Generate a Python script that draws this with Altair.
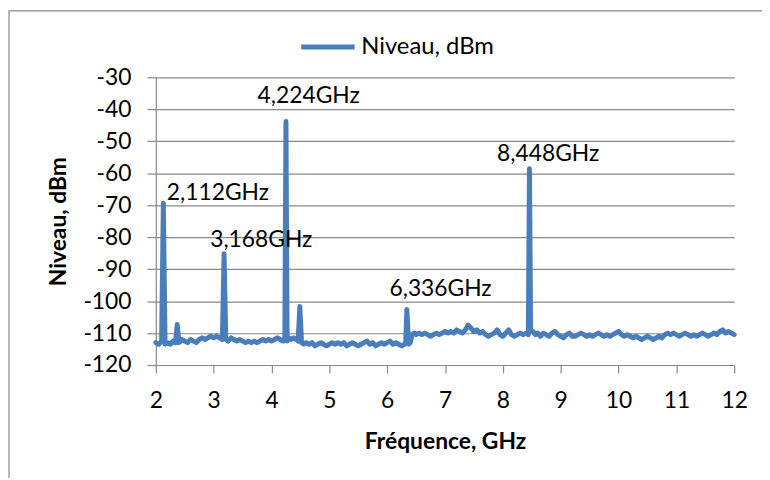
import altair as alt
import pandas as pd

# ---- data ----
freq_ghz = [
    2.00, 2.05, 2.10, 2.13, 2.16, 2.20, 2.25, 2.30, 2.34, 2.37, 2.40, 2.45, 2.50, 2.55,
    2.60, 2.65, 2.70, 2.75, 2.80, 2.85, 2.90, 2.95, 3.00, 3.05, 3.10, 3.15, 3.18, 3.21,
    3.25, 3.30, 3.35, 3.40, 3.45, 3.50, 3.55, 3.60, 3.65, 3.70, 3.75, 3.80, 3.85, 3.90,
    3.95, 4.00, 4.05, 4.10, 4.15, 4.20, 4.23, 4.25, 4.27, 4.30, 4.34, 4.38, 4.43, 4.46,
    4.49, 4.52, 4.56, 4.60, 4.65, 4.70, 4.75, 4.80, 4.85, 4.90, 4.95, 5.00, 5.05, 5.10,
    5.15, 5.20, 5.25, 5.30, 5.35, 5.40, 5.45, 5.50, 5.55, 5.60, 5.65, 5.70, 5.75, 5.80,
    5.85, 5.90, 5.95, 6.00, 6.05, 6.10, 6.15, 6.20, 6.25, 6.30, 6.32, 6.34, 6.37, 6.40,
    6.43, 6.47, 6.50, 6.55, 6.60, 6.65, 6.70, 6.75, 6.80, 6.85, 6.90, 6.95, 7.00, 7.05,
    7.10, 7.15, 7.20, 7.25, 7.30, 7.35, 7.40, 7.45, 7.50, 7.55, 7.60, 7.65, 7.70, 7.75,
    7.80, 7.85, 7.90, 7.95, 8.00, 8.05, 8.10, 8.15, 8.20, 8.25, 8.30, 8.35, 8.40, 8.44,
    8.46, 8.48, 8.52, 8.56, 8.60, 8.65, 8.70, 8.75, 8.80, 8.85, 8.90, 8.95, 9.00, 9.05,
    9.10, 9.15, 9.20, 9.25, 9.30, 9.35, 9.40, 9.45, 9.50, 9.55, 9.60, 9.65, 9.70, 9.75,
    9.80, 9.85, 9.90, 9.95, 10.00, 10.05, 10.10, 10.15, 10.20, 10.25, 10.30, 10.35, 10.40,
    10.45, 10.50, 10.55, 10.60, 10.65, 10.70, 10.75, 10.80, 10.85, 10.90, 10.95, 11.00,
    11.05, 11.10, 11.15, 11.20, 11.25, 11.30, 11.35, 11.40, 11.45, 11.50, 11.55, 11.60,
    11.65, 11.70, 11.75, 11.80, 11.85, 11.90, 11.95, 12.00,
]
level_dbm = [
    -113.0, -113.5, -112.5, -69.4, -113.5, -113.0, -113.5, -112.5, -113.0, -107.3, -113.0, -112.0, -112.5, -113.0,
    -112.0, -112.5, -113.0, -112.0, -111.5, -112.0, -111.5, -111.0, -111.5, -111.0, -111.5, -112.0, -85.2, -112.0,
    -112.5, -111.5, -112.0, -112.5, -112.0, -112.5, -113.0, -112.5, -113.0, -112.5, -113.0, -112.5, -112.0, -112.5,
    -112.0, -112.5, -112.0, -111.5, -112.0, -112.5, -112.0, -43.8, -112.5, -111.5, -112.0, -111.5, -112.0, -112.5,
    -101.7, -113.0, -113.5, -113.0, -113.5, -113.0, -114.0, -113.5, -113.0, -113.5, -114.0, -113.5, -113.0, -113.5,
    -113.0, -113.5, -113.0, -114.0, -113.5, -113.0, -113.5, -114.0, -113.5, -113.0, -112.5, -113.5, -113.0, -114.0,
    -113.5, -113.0, -113.5, -113.0, -112.5, -113.5, -113.0, -113.5, -114.0, -113.5, -113.0, -102.6, -113.5, -113.0,
    -110.5, -110.0, -110.5, -110.0, -110.5, -110.0, -110.5, -111.0, -110.5, -110.0, -110.5, -110.0, -109.5, -110.0,
    -109.5, -110.0, -109.0, -109.5, -110.0, -109.0, -107.5, -108.5, -109.5, -109.0, -110.0, -109.5, -110.5, -111.0,
    -110.5, -110.0, -109.0, -110.5, -111.0, -110.0, -109.0, -110.5, -111.0, -110.5, -110.0, -110.5, -110.0, -110.5,
    -58.6, -109.0, -109.5, -110.5, -110.0, -111.0, -110.0, -110.5, -111.0, -110.0, -109.5, -110.5, -111.0, -111.5,
    -110.5, -110.0, -111.0, -111.0, -110.5, -110.0, -110.5, -111.0, -110.5, -111.0, -110.5, -110.0, -110.5, -111.0,
    -110.5, -111.0, -110.5, -110.0, -109.5, -110.5, -111.0, -110.5, -111.0, -111.5, -111.0, -111.5, -112.0,
    -111.5, -111.0, -111.5, -112.0, -111.5, -111.0, -111.5, -110.5, -110.0, -110.5, -110.0, -110.5,
    -111.0, -110.5, -110.0, -110.5, -111.0, -110.5, -111.0, -110.5, -110.0, -110.5, -111.0, -110.5,
    -110.0, -110.5, -109.5, -109.0, -110.0, -109.5, -110.0, -110.5,
]
series_name = "Niveau, dBm"

peak_labels = ["2,112GHz", "3,168GHz", "4,224GHz", "6,336GHz", "8,448GHz"]
peak_label_freq = [2.19, 2.94, 3.76, 6.04, 7.90]
peak_label_level = [-68.5, -83.0, -38.1, -98.3, -56.3]

x_ticks = [2, 3, 4, 5, 6, 7, 8, 9, 10, 11, 12]
y_ticks = [-120, -110, -100, -90, -80, -70, -60, -50, -40, -30]

FONT = "Lato"
BLUE = "#4A7EBB"
GRAY = "#898989"

spec_df = pd.DataFrame({"f": freq_ghz, "v": level_dbm, "s": [series_name] * len(freq_ghz)})
ann_df = pd.DataFrame({"t": peak_labels, "f": peak_label_freq, "v": peak_label_level})

x_scale = alt.Scale(domain=[2, 12], nice=False, zero=False)
y_scale = alt.Scale(domain=[-120, -30], nice=False, zero=False)

x_axis = alt.Axis(
    values=x_ticks, title="Fréquence, GHz", grid=False, labelExpr="'' + datum.value",
    tickSize=8, labelPadding=17, titlePadding=18, labelFlush=False,
)
y_axis = alt.Axis(
    values=y_ticks, title="Niveau, dBm", grid=True, labelExpr="'' + datum.value",
    tickSize=9, labelPadding=16, titlePadding=12,
)

line = alt.Chart(spec_df).mark_line(
    strokeWidth=5, strokeCap="round", strokeJoin="round"
).encode(
    x=alt.X("f:Q", scale=x_scale, axis=x_axis),
    y=alt.Y("v:Q", scale=y_scale, axis=y_axis),
    color=alt.Color("s:N", scale=alt.Scale(range=[BLUE]), legend=alt.Legend(
        title=None, orient="none", legendX=144, legendY=-60, symbolType="stroke",
        symbolSize=2900, symbolStrokeWidth=5, labelFontSize=24, labelFont=FONT,
        labelColor="black", padding=0, labelOffset=4,
    )),
)

ann = alt.Chart(ann_df).mark_text(
    align="left", baseline="alphabetic", font=FONT, fontSize=23, color="black"
).encode(
    x=alt.X("f:Q", scale=x_scale, axis=x_axis),
    y=alt.Y("v:Q", scale=y_scale, axis=y_axis),
    text="t:N",
)

border = alt.Chart(pd.DataFrame({"k": [0]})).mark_rect(
    filled=False, stroke=GRAY, strokeWidth=1.2, clip=False
).encode(
    x=alt.value(-148), x2=alt.value(700), y=alt.value(-67), y2=alt.value(500)
)

chart = alt.layer(border, line, ann).properties(
    width=583, height=290,
    autosize=alt.AutoSizeParams(type="none"),
    padding={"left": 149, "top": 68, "right": 28, "bottom": 112},
).configure_view(stroke=None).configure_axis(
    labelFont=FONT, labelFontSize=23, labelColor="black",
    titleFont=FONT, titleFontSize=23, titleFontWeight="bold", titleColor="black",
    domainColor=GRAY, tickColor=GRAY, gridColor=GRAY, domainWidth=1.2, tickWidth=1.2, gridWidth=1.2,
)

chart.save("out.html", embed_options={"renderer": "svg", "actions": False})
